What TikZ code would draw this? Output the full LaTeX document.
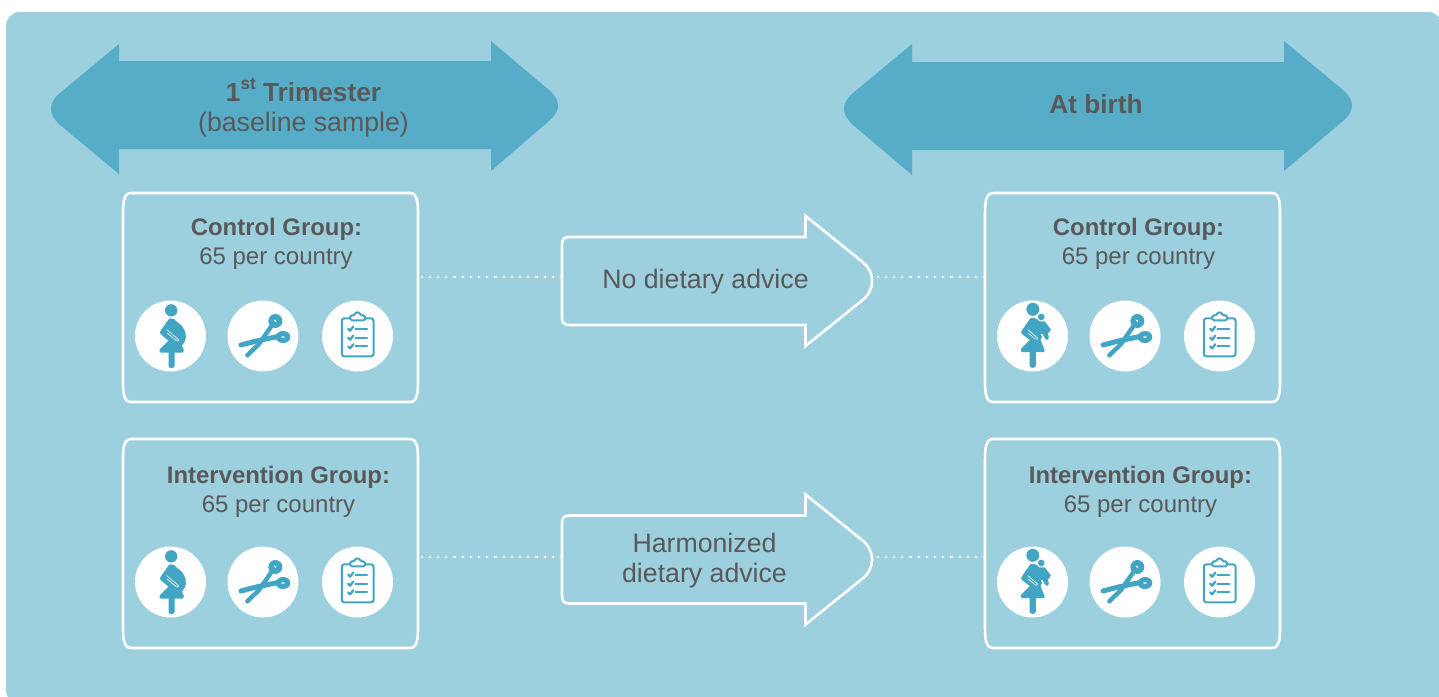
\documentclass[tikz,border=0pt]{standalone}
\usepackage{fontspec}
\setmainfont{Liberation Sans}
\definecolor{panelblue}{HTML}{9DD0DE}
\definecolor{bandblue}{HTML}{57ADC8}
\definecolor{iconblue}{HTML}{42A5C4}
\definecolor{inkgrey}{HTML}{595959}
\tikzset{
  band/.style={fill=bandblue,draw=none},
  boxline/.style={draw=white,line width=1.3pt},
  anchorbox/.style={draw=none,inner sep=0pt,minimum width=147.5pt,minimum height=104.5pt},
  arrowbox/.style={draw=none,inner sep=0pt,minimum width=156pt,minimum height=65pt},
  dots/.style={draw=white,line width=1.35pt,dash pattern=on 1.05pt off 3.05pt,dash phase=3pt},
  head/.style={font=\fontsize{13.1}{15}\selectfont\bfseries,text=inkgrey,anchor=base,inner sep=0pt},
  sub/.style={font=\fontsize{13.35}{15}\selectfont,text=inkgrey,anchor=base,inner sep=0pt},
  ghead/.style={font=\fontsize{11.95}{15}\selectfont\bfseries,text=inkgrey,anchor=base,inner sep=0pt},
  gsub/.style={font=\fontsize{12}{15}\selectfont,text=inkgrey,anchor=base,inner sep=0pt},
  disc/.style={circle,fill=white,draw=none,inner sep=0pt,minimum size=35.5pt},
  iconfill/.style={fill=iconblue,draw=none},
  iconline/.style={draw=iconblue,line cap=round,line join=round},
  pics/groupbox/.style={code={
    \draw[boxline] (-147.5,-84) .. controls (-147.5,-98) and (-146,-104.5) .. (-139,-104.5)
      -- (139,-104.5) .. controls (146,-104.5) and (147.5,-98) .. (147.5,-84)
      -- (147.5,84) .. controls (147.5,98) and (146,104.5) .. (139,104.5)
      -- (-139,104.5) .. controls (-146,104.5) and (-147.5,98) .. (-147.5,84) -- cycle;
  }},
  pics/hollowarrow/.style={code={
    \draw[boxline,line join=miter] (-156,-36) .. controls (-156,-42) and (-154,-44) .. (-148,-44)
      -- (87.5,-44) -- (87.5,-65) -- (144,-19.5)
      .. controls (157.5,-9) and (157.5,9) .. (144,19.5)
      -- (87.5,65) -- (87.5,44) -- (-148,44)
      .. controls (-154,44) and (-156,42) .. (-156,36) -- cycle;
  }},
  pics/woman/.style={code={\begin{scope}[x=0.16667pt,y=-0.16667pt]
    \fill[iconfill] (2,-77) circle[radius=18.5];
    \fill[iconfill] (-4,-52) .. controls (8,-54) and (16,-50) .. (20,-42)
      .. controls (38,-32) and (48,-12) .. (46,6)
      .. controls (44,18) and (38,24) .. (34,28)
      -- (40,42) .. controls (41,50) and (36,50) .. (32,50)
      -- (12,50) -- (12,90) .. controls (12,98) and (-6,98) .. (-6,90) -- (-6,50)
      -- (-28,50) .. controls (-34,50) and (-34,44) .. (-32,40)
      -- (-6,14) -- (-30,-6) .. controls (-32,-10) and (-32,-14) .. (-28,-18) -- cycle;
    \draw[white,line width=0.3pt,line cap=round] (-11,-19) -- (24,11) .. controls (28,15) and (20,17) .. (16,13) -- (-10,-9);
  \end{scope}}},
  pics/mother/.style={code={\begin{scope}[x=0.16667pt,y=-0.16667pt]
    \fill[iconfill] (1,-80) circle[radius=19.5];
    \fill[iconfill] (26,-57) circle[radius=10];
    \fill[iconfill] (16,-44) -- (36,-44) .. controls (42,-38) and (48,-28) .. (55,-20)
      -- (50,-11) -- (46,-9) -- (49,6) .. controls (49,13) and (40,14) .. (38,8)
      -- (30,-6) -- (20,-8) -- cycle;
    \fill[iconfill] (-6,-54) .. controls (8,-56) and (20,-50) .. (24,-36)
      -- (24,-8) .. controls (30,-2) and (30,6) .. (24,12)
      -- (36,42) .. controls (38,48) and (34,48) .. (30,48)
      -- (10,48) -- (10,88) .. controls (10,98) and (-9,98) .. (-9,88) -- (-9,48)
      -- (-31,48) .. controls (-36,48) and (-36,42) .. (-34,38)
      -- (-8,12) -- (-32,-6) .. controls (-35,-10) and (-35,-14) .. (-31,-18) -- cycle;
    \draw[white,line width=0.3pt,line cap=round] (-14,-19) -- (15,6) .. controls (19,10) and (11,12) .. (7,8) -- (-13,-9);
  \end{scope}}},
  pics/shears/.style={code={\begin{scope}[x=0.16667pt,y=-0.16667pt]
    \draw[iconline,line width=2.5pt] (-66,27) -- (-20,15) -- (42,2);
    \draw[iconline,line width=2.2pt] (-47,58) -- (-12,24) -- (24,-28);
    \fill[iconfill] (37,-45) ellipse[x radius=21,y radius=21];
    \fill[iconfill] (60,3) ellipse[x radius=22,y radius=18];
    \fill[white,rotate around={-45:(36,-46)}] (36,-46) ellipse[x radius=5,y radius=2.5];
    \fill[white] (60,3) ellipse[x radius=6,y radius=2];
  \end{scope}}},
  pics/clipboard/.style={code={\begin{scope}[x=0.16667pt,y=-0.16667pt]
    \draw[iconline,line width=1pt,rounded corners=1.2pt] (-21,-53) -- (-47,-53) -- (-47,61) -- (48,61) -- (48,-53) -- (23,-53);
    \draw[iconline,line width=1pt,fill=white,rounded corners=0.8pt] (-22,-47) -- (-22,-62) -- (-8,-62) .. controls (-6,-72) and (6,-72) .. (8,-62) -- (23,-62) -- (23,-47) -- cycle;
    \foreach \yy in {-22,5,31}{
      \draw[iconline,line width=1.15pt] (-28,\yy) -- (-22,\yy+6) -- (-13,\yy-6);
      \draw[iconline,line width=1.15pt] (-6,\yy) -- (29,\yy);
    }
  \end{scope}}}
}
\begin{document}
\begin{tikzpicture}[x=0.5pt,y=-0.5pt]
\useasboundingbox (0,0) rectangle (1439,696);
\fill[white] (0,0) rectangle (1439,696);
\fill[panelblue,rounded corners=7pt] (6,12) rectangle (1442,704);

% time bands
\fill[band] (119,61) -- (119,44) -- (60,93) .. controls (48,103) and (48,114) .. (60,125) -- (119,174) -- (119,149)
  -- (491,149) -- (491,171) -- (549,121) .. controls (561,111) and (561,100) .. (549,90) -- (491,41) -- (491,61) -- cycle;
\fill[band] (912,62) -- (912,44) -- (853,93) .. controls (841,103) and (841,114) .. (853,125) -- (912,175) -- (912,150)
  -- (1284,150) -- (1284,171) -- (1343,121) .. controls (1355,111) and (1355,100) .. (1343,90) -- (1284,41) -- (1284,62) -- cycle;
\node[head] (t1) at (303.5,101) {1\raisebox{0.42em}{\fontsize{8.6}{9}\selectfont st} Trimester};
\node[sub] (t2) at (303.5,131) {(baseline sample)};
\node[head] (t3) at (1096,113) {At birth};

% group boxes
\node[anchorbox] (cl) at (270.5,297.5) {};
\node[anchorbox] (il) at (270.5,543.5) {};
\node[anchorbox] (cr) at (1132.5,297.5) {};
\node[anchorbox] (ir) at (1132.5,543.5) {};
\pic at (cl.center) {groupbox};
\pic at (il.center) {groupbox};
\pic at (cr.center) {groupbox};
\pic at (ir.center) {groupbox};

% hollow arrows
\node[arrowbox] (a1) at (718,281) {};
\node[arrowbox] (a2) at (718,559.5) {};
\pic at (a1.center) {hollowarrow};
\pic at (a2.center) {hollowarrow};
\node[sub] (a1t) at (705.5,288) {No dietary advice};
\node[sub] (a2t) at (704.5,552) {Harmonized};
\node[sub] (a2u) at (704.5,582) {dietary advice};

% dotted connectors
\coordinate (l1) at (0,277);
\coordinate (l2) at (0,557);
\draw[dots] (cl.east |- l1) -- (a1.west |- l1);
\draw[dots] (a1.east |- l1) -- (cr.west |- l1);
\draw[dots] (il.east |- l2) -- (a2.west |- l2);
\draw[dots] (a2.east |- l2) -- (ir.west |- l2);

% group labels
\node[ghead] (g1) at (276.5,235) {Control Group:};
\node[gsub] (g2) at (276,264) {65 per country};
\node[ghead] (g3) at (278.5,483) {Intervention Group:};
\node[gsub] (g4) at (278.5,512) {65 per country};
\node[ghead] (g5) at (1138.5,235) {Control Group:};
\node[gsub] (g6) at (1138.5,264) {65 per country};
\node[ghead] (g7) at (1140.5,483) {Intervention Group:};
\node[gsub] (g8) at (1140.5,512) {65 per country};

% icons
\foreach \nm/\cx/\cy/\ic in {
  d1/170.5/336/woman, d2/263/336/shears, d3/357.5/336/clipboard,
  d4/170.5/582/woman, d5/263/582/shears, d6/357.5/582/clipboard,
  d7/1032.5/336/mother, d8/1125/336/shears, d9/1219.5/336/clipboard,
  d10/1032.5/582/mother, d11/1125/582/shears, d12/1219.5/582/clipboard}{
  \node[disc] (\nm) at (\cx,\cy) {};
  \pic at (\nm.center) {\ic};
}
\end{tikzpicture}
\end{document}
